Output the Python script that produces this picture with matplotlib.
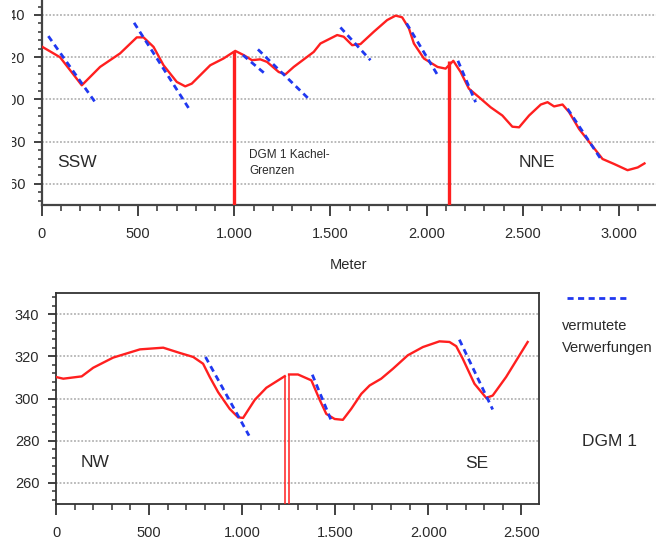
import numpy as np
import matplotlib
matplotlib.use("Agg")
import matplotlib.pyplot as plt
from matplotlib.ticker import MultipleLocator, FuncFormatter
from matplotlib.lines import Line2D
from matplotlib.patches import Rectangle

plt.rcParams['font.family'] = ['Liberation Sans', 'DejaVu Sans']

# --- Profil SSW-NNE (oben) ---
top_x = [0, 94, 207, 302, 406, 493, 528, 580, 632, 701, 745, 779, 875, 944, 1005,
         1049, 1092, 1135, 1170, 1231, 1266, 1309, 1413, 1448, 1535, 1569, 1613, 1656,
         1726, 1795, 1839, 1873, 1908, 1934, 1986, 2057, 2099, 2139, 2177, 2220, 2272,
         2333, 2394, 2446, 2481, 2533, 2594, 2629, 2663, 2707, 2741, 2793, 2854, 2915,
         2976, 3045, 3098, 3133]
top_y = [325.0, 320.0, 306.7, 315.4, 321.8, 329.4, 329.4, 324.9, 316.2, 308.3, 306.2,
         307.5, 316.2, 319.4, 323.0, 321.0, 318.6, 319.0, 317.8, 313.0, 311.9, 315.4,
         322.5, 326.5, 330.5, 329.7, 325.7, 326.2, 332.1, 337.6, 339.7, 338.9, 333.7,
         326.5, 319.4, 315.4, 314.6, 318.3, 313.0, 305.1, 301.1, 296.3, 292.4, 287.1,
         286.8, 292.4, 297.6, 298.7, 296.7, 297.6, 294.0, 286.0, 278.9, 271.8, 269.4,
         266.5, 267.8, 269.7]
# Kachelgrenzen (x, Oberkante)
top_kachel_x = [1000, 2116]
top_kachel_y = [323.0, 318.0]
# vermutete Verwerfungen (Start/Ende)
top_fault_x = [(33, 285), (479, 762), (1045, 1170), (1123, 1387), (1552, 1708),
               (1896, 2055), (2163, 2255), (2733, 2906)]
top_fault_y = [(330.0, 297.6), (336.3, 296.0), (321.0, 311.4), (323.7, 300.3),
               (334.1, 318.6), (336.0, 311.9), (318.3, 298.7), (295.6, 271.8)]

# --- Profil NW-SE (unten) ---
bot_x = [0, 39, 138, 200, 307, 451, 576, 665, 737, 790, 826, 871, 933, 978, 1005,
         1068, 1130, 1229, np.nan, 1252, 1300, 1372, 1416, 1452, 1497, 1541, 1586,
         1640, 1685, 1747, 1810, 1890, 1971, 2060, 2114, 2150, 2185, 2248, 2311, 2346,
         2418, 2534]
bot_y = [310.2, 309.4, 310.5, 314.6, 319.4, 323.3, 324.1, 321.6, 319.7, 316.5, 310.2,
         303.0, 295.1, 291.1, 290.8, 299.4, 305.1, 310.6, np.nan, 311.4, 311.4, 308.6,
         299.5, 292.7, 290.3, 289.9, 295.1, 302.2, 306.2, 309.4, 314.1, 320.5, 324.4,
         327.1, 326.8, 324.8, 318.9, 307.0, 300.3, 301.4, 310.2, 326.8]
bot_kachel_x = [1229, 1252]
bot_kachel_y = [310.6, 311.4]
bot_fault_x = [(803, 1037), (1377, 1479), (2167, 2346)]
bot_fault_y = [(319.7, 282.4), (311.3, 289.5), (327.9, 294.8)]

RED = '#ff1f1f'
BLUE = '#2038f0'
TXT = '#2a2a2a'
FAULT_DASH = (2.2, 1.6)

def de_fmt(v, pos):
    return f"{v:,.0f}".replace(",", ".")

fig = plt.figure(figsize=(6.56, 5.46), dpi=100)

# ---------- oben ----------
ax1 = fig.add_axes([0.064, 0.6245, 0.936, 0.3755])
ax1.plot(top_x, top_y, color=RED, lw=1.7, zorder=3, solid_joinstyle='round')
ax1.vlines(top_kachel_x, 250, top_kachel_y, color=RED, lw=2.4, zorder=3)
for fx, fy in zip(top_fault_x, top_fault_y):
    ax1.plot(fx, fy, color=BLUE, lw=2, dashes=FAULT_DASH, zorder=4)
ax1.set_xlim(0, 3193)
ax1.set_ylim(250, 347.1)
for s in ['top', 'right']:
    ax1.spines[s].set_visible(False)
for s in ['left', 'bottom']:
    ax1.spines[s].set_color('#444444')
    ax1.spines[s].set_linewidth(1.6)
ax1.set_xlabel('Meter', fontsize=10.5, color=TXT, labelpad=12)
ax1.text(182, 270, 'SSW', fontsize=12.5, color=TXT, ha='center', va='center')
ax1.text(2574, 270, 'NNE', fontsize=12.5, color=TXT, ha='center', va='center')
ax1.text(1076, 270, 'DGM 1 Kachel-\nGrenzen', fontsize=8.5, color=TXT,
         ha='left', va='center', linespacing=1.5)

# ---------- unten ----------
ax2 = fig.add_axes([0.0854, 0.0769, 0.7363, 0.3864])
ax2.plot(bot_x, bot_y, color=RED, lw=1.7, zorder=3, solid_joinstyle='round')
ax2.vlines(bot_kachel_x, 250, bot_kachel_y, color=RED, lw=1.1, zorder=3)
for fx, fy in zip(bot_fault_x, bot_fault_y):
    ax2.plot(fx, fy, color=BLUE, lw=2, dashes=FAULT_DASH, zorder=4)
ax2.set_xlim(0, 2595)
ax2.set_ylim(250, 350)
for s in ax2.spines.values():
    s.set_color('#333333')
    s.set_linewidth(1.3)
ax2.text(209, 269.5, 'NW', fontsize=12.5, color=TXT, ha='center', va='center')
ax2.text(2259, 269, 'SE', fontsize=12.5, color=TXT, ha='center', va='center')

for ax, xpad in ((ax1, 10), (ax2, 9.5)):
    ax.xaxis.set_major_locator(MultipleLocator(500))
    ax.xaxis.set_minor_locator(MultipleLocator(100))
    ax.yaxis.set_major_locator(MultipleLocator(20))
    ax.yaxis.set_minor_locator(MultipleLocator(4))
    ax.xaxis.set_major_formatter(FuncFormatter(de_fmt))
    ax.tick_params(axis='x', which='major', length=8, width=1.3, color='#333333',
                   labelsize=10.5, labelcolor=TXT, pad=xpad - 2)
    ax.tick_params(axis='x', which='minor', length=4.5, width=1.1, color='#333333')
    ax.tick_params(axis='y', which='major', length=6, width=1.3, color='#333333',
                   labelsize=10.5, labelcolor=TXT, pad=6)
    ax.tick_params(axis='y', which='minor', length=3, width=1.1, color='#333333')
    ax.grid(axis='y', which='major', color='#b4b4b4', linestyle=(0, (1, 1)), lw=1.3)
    ax.set_axisbelow(True)

# abgeschnittener linker Rand der oberen Grafik
fig.patches.append(Rectangle((0, 0.47), 12 / 656, 0.53, transform=fig.transFigure,
                             facecolor='white', edgecolor='none', zorder=10))

# Legende rechts
fig.add_artist(Line2D([567 / 656, 630 / 656], [1 - 298 / 546] * 2, color=BLUE, lw=2,
                      dashes=FAULT_DASH, transform=fig.transFigure))
fig.text(562 / 656, 1 - 326 / 546, 'vermutete', fontsize=10.5, color=TXT,
         ha='left', va='center')
fig.text(562 / 656, 1 - 348 / 546, 'Verwerfungen', fontsize=10.5, color=TXT,
         ha='left', va='center')
fig.text(609 / 656, 1 - 442 / 546, 'DGM 1', fontsize=12.5, color=TXT,
         ha='center', va='center')

fig.savefig('out.png', dpi=100)
